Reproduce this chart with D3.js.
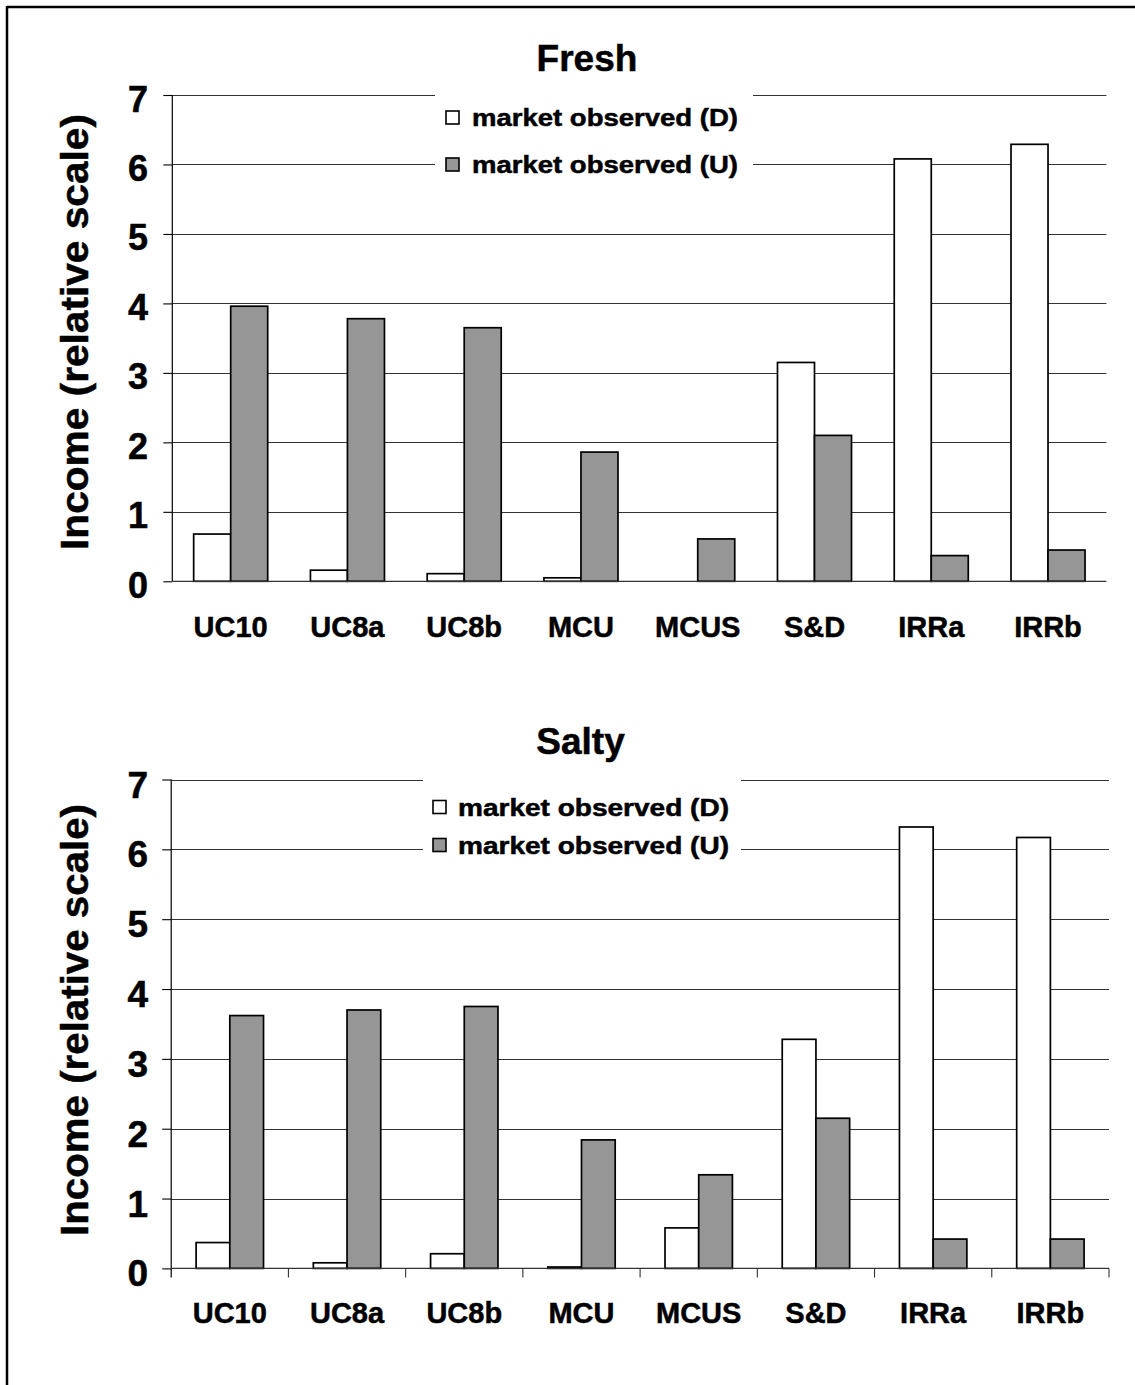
<!DOCTYPE html>
<html>
<head>
<meta charset="utf-8">
<script src="https://cdn.jsdelivr.net/npm/d3@7"></script>
<style>
  html, body { margin: 0; padding: 0; background: #fff; }
  svg { display: block; }
  text { font-family: Arial, "Liberation Sans", sans-serif; font-weight: bold; fill: #000;
         stroke: #000; stroke-width: 0.5px; }
</style>
</head>
<body>
<svg id="chart" width="1135" height="1385"></svg>
<script>
// ---- data ----
const categories = ["UC10", "UC8a", "UC8b", "MCU", "MCUS", "S&D", "IRRa", "IRRb"];
const seriesNames = ["market observed (D)", "market observed (U)"];
const freshD = [0.68, 0.16, 0.11, 0.05, 0, 3.15, 6.08, 6.29];
const freshU = [3.96, 3.78, 3.65, 1.86, 0.61, 2.10, 0.37, 0.45];
const saltyD = [0.37, 0.08, 0.21, 0.02, 0.58, 3.28, 6.32, 6.17];
const saltyU = [3.62, 3.70, 3.75, 1.84, 1.34, 2.15, 0.42, 0.42];
const yTicks = [0, 1, 2, 3, 4, 5, 6, 7];
const titles = ["Fresh", "Salty"];
const yLabel = "Income (relative scale)";

// ---- styles ----
const colors = ["#ffffff", "#969696"];

const svg = d3.select("#chart");

// outer frame (top and left edges visible)
svg.append("line").attr("x1", 7).attr("x2", 1135).attr("y1", 7).attr("y2", 7)
  .attr("stroke", "#000").attr("stroke-width", 2.5);
svg.append("line").attr("x1", 7).attr("x2", 7).attr("y1", 6).attr("y2", 1385)
  .attr("stroke", "#000").attr("stroke-width", 2.5);

// helper: factor that stretches a text node (in its own frame) to a target length
function stretchTo(sel, target) {
  const w = sel.node().getComputedTextLength();
  return w > 0 ? target / w : 1;
}

const panels = [
  { title: titles[0], d: freshD, u: freshU,
    x0: 172.3, x1: 1106.4, yTop: 95, yBot: 581.3, pad: 0.366,
    titleX: 587, titleY: 70.5, catY: 637, tickLabelDy: 16.5, tickFont: 36,
    labelCY: 332, labelLen: 436, catTicks: false,
    legend: { bx0: 435, bx1: 753, by0: 86, by1: 186, sqX: 446, rows: [117.5, 164.5], textX: 472, textLen: 266 } },
  { title: titles[1], d: saltyD, u: saltyU,
    x0: 171.2, x1: 1109, yTop: 779.5, yBot: 1268.4, pad: 0.425,
    titleX: 580.5, titleY: 753.5, catY: 1322.5, tickLabelDy: 18, tickFont: 37,
    labelCY: 1020, labelLen: 432, catTicks: true,
    legend: { bx0: 423, bx1: 741, by0: 770, by1: 868, sqX: 433, rows: [807, 845], textX: 458, textLen: 271 } }
];

panels.forEach(p => {
  const g = svg.append("g");
  const y = d3.scaleLinear().domain([0, 7]).range([p.yBot, p.yTop]);
  const x = d3.scaleBand().domain(categories).range([p.x0, p.x1])
    .paddingInner(p.pad).paddingOuter(p.pad / 2);
  const xs = d3.scaleBand().domain([0, 1]).range([0, x.bandwidth()]);

  // gridlines
  g.append("g").selectAll("line").data(yTicks.filter(t => t > 0)).join("line")
    .attr("x1", p.x0).attr("x2", p.x1)
    .attr("y1", d => Math.round(y(d)) + 0.5).attr("y2", d => Math.round(y(d)) + 0.5)
    .attr("stroke", "#333").attr("stroke-width", 1.1);

  // legend background (interrupts gridlines)
  const L = p.legend;
  g.append("rect").attr("x", L.bx0).attr("y", L.by0)
    .attr("width", L.bx1 - L.bx0).attr("height", L.by1 - L.by0).attr("fill", "#fff");

  // y axis
  const yAxis = d3.axisLeft(y).tickValues(yTicks).tickSize(9).tickPadding(0).tickFormat(() => "");
  const ya = g.append("g").attr("transform", `translate(${p.x0},0)`).call(yAxis);
  ya.select(".domain").remove();
  ya.selectAll(".tick line").attr("stroke", "#000").attr("stroke-width", 1.1);
  g.append("line").attr("x1", p.x0).attr("x2", p.x0)
    .attr("y1", p.yTop).attr("y2", p.catTicks ? p.yBot + 9 : p.yBot)
    .attr("stroke", "#000").attr("stroke-width", 1.2);

  // tick labels
  g.append("g").selectAll("text").data(yTicks).join("text")
    .attr("x", 148).attr("y", d => y(d) + p.tickLabelDy)
    .attr("text-anchor", "end").attr("font-size", p.tickFont)
    .text(d => d);

  // bars
  const series = [p.d, p.u];
  series.forEach((vals, si) => {
    g.append("g").selectAll("rect")
      .data(categories.map((c, i) => ({ c, v: vals[i] })).filter(o => o.v > 0))
      .join("rect")
      .attr("x", o => x(o.c) + xs(si))
      .attr("width", xs.bandwidth())
      .attr("y", o => y(o.v))
      .attr("height", o => y(0) - y(o.v))
      .attr("fill", colors[si])
      .attr("stroke", "#000").attr("stroke-width", 1.7);
  });

  // x axis baseline
  g.append("line").attr("x1", p.x0).attr("x2", p.x1)
    .attr("y1", y(0)).attr("y2", y(0))
    .attr("stroke", "#333").attr("stroke-width", 1.2);

  // category ticks (bottom panel only)
  if (p.catTicks) {
    const bounds = categories.slice(1).map(c => x(c) - x.step() * x.paddingInner() / 2);
    g.append("g").selectAll("line").data(bounds.concat([p.x1])).join("line")
      .attr("x1", d => d).attr("x2", d => d)
      .attr("y1", y(0)).attr("y2", y(0) + 9)
      .attr("stroke", "#333").attr("stroke-width", 1.1);
  }

  // category labels
  g.append("g").selectAll("text").data(categories).join("text")
    .attr("x", c => x(c) + x.bandwidth() / 2).attr("y", p.catY)
    .attr("text-anchor", "middle").attr("font-size", 29)
    .text(c => c);

  // title
  g.append("text").attr("x", p.titleX).attr("y", p.titleY)
    .attr("text-anchor", "middle").attr("font-size", 37).text(p.title);

  // y label (stretched along its length to match the reference)
  const yl = g.append("text")
    .attr("text-anchor", "middle").attr("font-size", 38)
    .text(yLabel);
  const sy = stretchTo(yl, p.labelLen);
  yl.attr("transform", `translate(88,${p.labelCY}) rotate(-90) scale(${sy},1)`);

  // legend
  L.rows.forEach((cy, i) => {
    g.append("rect").attr("x", L.sqX).attr("y", cy - 6.5).attr("width", 13).attr("height", 13)
      .attr("fill", colors[i]).attr("stroke", "#000").attr("stroke-width", 1.6);
    const t = g.append("text").attr("x", 0).attr("y", 0)
      .attr("font-size", 23.5)
      .text(seriesNames[i]);
    const sx = stretchTo(t, L.textLen);
    t.attr("transform", `translate(${L.textX},${cy + 8.5}) scale(${sx},1)`);
  });
});
</script>
</body>
</html>
